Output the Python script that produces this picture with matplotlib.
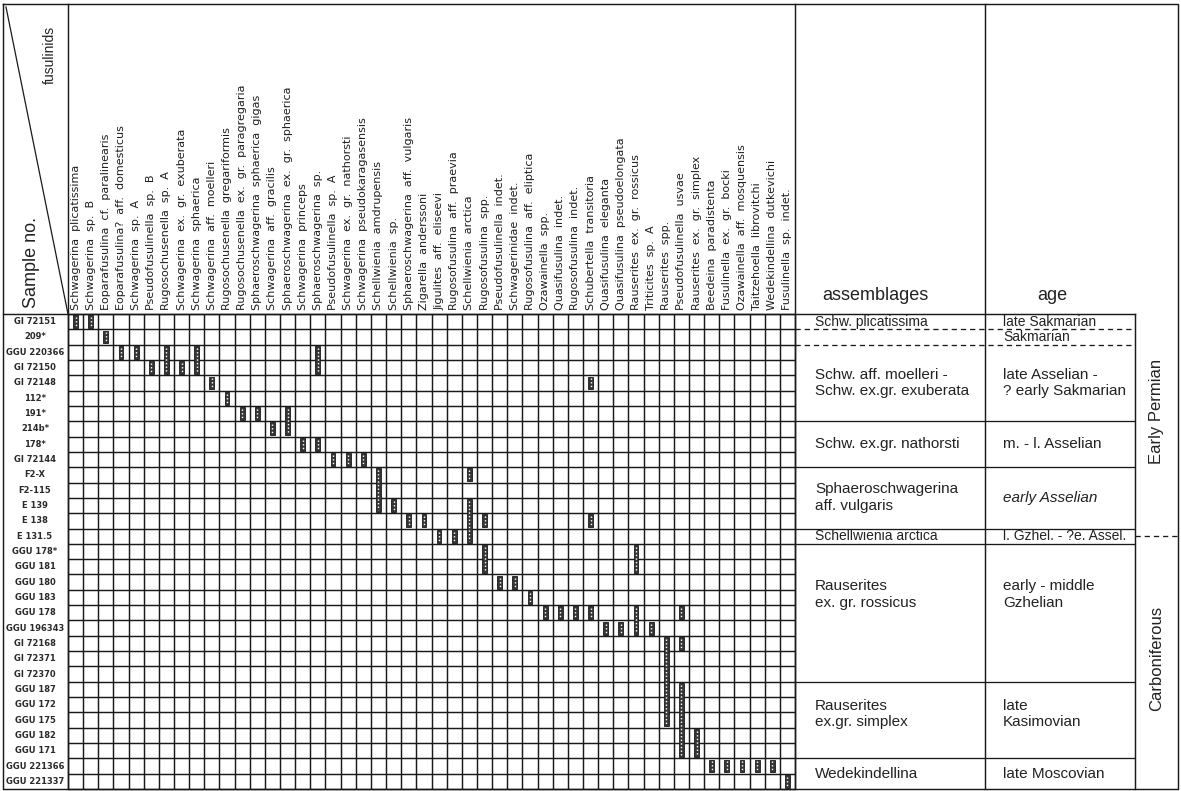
import matplotlib
matplotlib.use("Agg")
import matplotlib.pyplot as plt
import matplotlib.patches as mpatches
import numpy as np

# --- data -----------------------------------------------------------------
SPECIES = [
    "Schwagerina  plicatissima",
    "Schwagerina  sp.  B",
    "Eoparafusulina  cf.  paralinearis",
    "Eoparafusulina?  aff.  domesticus",
    "Schwagerina  sp.  A",
    "Pseudofusulinella  sp.  B",
    "Rugosochusenella  sp.  A",
    "Schwagerina  ex.  gr.  exuberata",
    "Schwagerina  sphaerica",
    "Schwagerina  aff.  moelleri",
    "Rugosochusenella  gregariformis",
    "Rugosochusenella  ex.  gr.  paragregaria",
    "Sphaeroschwagerina  sphaerica  gigas",
    "Schwagerina  aff.  gracilis",
    "Sphaeroschwagerina  ex.  gr.  sphaerica",
    "Schwagerina  princeps",
    "Sphaeroschwagerina  sp.",
    "Pseudofusulinella  sp.  A",
    "Schwagerina  ex.  gr.  nathorsti",
    "Schwagerina  pseudokaragasensis",
    "Schellwienia  amdrupensis",
    "Schellwienia  sp.",
    "Sphaeroschwagerina  aff.  vulgaris",
    "Zigarella  anderssoni",
    "Jigulites  aff.  eliseevi",
    "Rugosofusulina  aff.  praevia",
    "Schellwienia  arctica",
    "Rugosofusulina  spp.",
    "Pseudofusulinella  indet.",
    "Schwagerinidae  indet.",
    "Rugosofusulina  aff.  eliptica",
    "Ozawainella  spp.",
    "Quasifusulina  indet.",
    "Rugosofusulina  indet.",
    "Schubertella  transitoria",
    "Quasifusulina  eleganta",
    "Quasifusulina  pseudoelongata",
    "Rauserites  ex.  gr.  rossicus",
    "Triticites  sp.  A",
    "Rauserites  spp.",
    "Pseudofusulinella  usvae",
    "Rauserites  ex.  gr.  simplex",
    "Beedeina  paradistenta",
    "Fusulinella  ex.  gr.  bocki",
    "Ozawainella  aff.  mosquensis",
    "Taitzehoella  librovitchi",
    "Wedekindellina  dutkevichi",
    "Fusulinella  sp.  indet.",
]

SAMPLES = [
    "GI 72151", "209*", "GGU 220366", "GI 72150", "GI 72148", "112*", "191*",
    "214b*", "178*", "GI 72144", "F2-X", "F2-115", "E 139", "E 138", "E 131.5",
    "GGU 178*", "GGU 181", "GGU 180", "GGU 183", "GGU 178", "GGU 196343",
    "GI 72168", "GI 72371", "GI 72370", "GGU 187", "GGU 172", "GGU 175",
    "GGU 182", "GGU 171", "GGU 221366", "GGU 221337",
]

# species numbers (1-based) found in each sample, same order as SAMPLES
OCCURRENCES = [
    [1, 2],
    [3],
    [4, 5, 7, 9, 17],
    [6, 7, 8, 9, 17],
    [10, 35],
    [11],
    [12, 13, 15],
    [14, 15],
    [16, 17],
    [18, 19, 20],
    [21, 27],
    [21],
    [21, 22, 27],
    [23, 24, 27, 28, 35],
    [25, 26, 27],
    [28, 38],
    [28, 38],
    [29, 30],
    [31],
    [32, 33, 34, 35, 38, 41],
    [36, 37, 38, 39],
    [40, 41],
    [40],
    [40],
    [40, 41],
    [40, 41],
    [40, 41],
    [41, 42],
    [41, 42],
    [43, 44, 45, 46, 47],
    [48],
]

ASSEMBLAGES = [
    "Schw. plicatissima",
    "",
    "Schw. aff. moelleri -\nSchw. ex.gr. exuberata",
    "Schw. ex.gr. nathorsti",
    "Sphaeroschwagerina\naff. vulgaris",
    "Schellwienia arctica",
    "Rauserites\nex. gr. rossicus",
    "Rauserites\nex.gr. simplex",
    "Wedekindellina",
]
AGES = [
    "late Sakmarian",
    "Sakmarian",
    "late Asselian -\n? early Sakmarian",
    "m. - l. Asselian",
    "early Asselian",
    "l. Gzhel. - ?e. Assel.",
    "early - middle\nGzhelian",
    "late\nKasimovian",
    "late Moscovian",
]
ZONE_BOUNDS = [0, 1, 2, 7, 10, 14, 15, 24, 29, 31]
DASHED_BOUNDS = [1, 2]

PERIODS = ["Early Permian", "Carboniferous"]
PERIOD_BOUNDS = [0, 14.5, 31]

# --- layout (pixels of the 1181 x 791 picture) ------------------------------
W, H = 1181, 791
LEFT, GRID_L, GRID_R, ASM_R, AGE_R, RIGHT = 3, 68, 795, 985, 1135, 1178
TOP, GRID_T, BOTTOM = 4, 314, 789
INK = "#1a1a1a"
LW = 1.05
LABEL_SHIFT = {6: -1.2, 7: -0.4}
PERIOD_SHIFT = {0: -0.9, 1: -0.3}
SANS = "Liberation Sans"


def fig_box(x0, y0, x1, y1):
    return [x0 / W, 1 - y1 / H, (x1 - x0) / W, (y1 - y0) / H]


fig = plt.figure(figsize=(W / 100, H / 100), dpi=100)
fig.patch.set_facecolor("white")

frame = fig.add_axes([0, 0, 1, 1])
frame.set_xlim(0, W)
frame.set_ylim(H, 0)
frame.axis("off")

n_sp, n_rows = len(SPECIES), len(SAMPLES)
ax = fig.add_axes(fig_box(GRID_L, GRID_T, GRID_R, BOTTOM))
ax.set_xlim(0, n_sp)
ax.set_ylim(n_rows, 0)
ax.axis("off")

rx = fig.add_axes(fig_box(GRID_R, GRID_T, RIGHT, BOTTOM))
rx.set_xlim(GRID_R, RIGHT)
rx.set_ylim(n_rows, 0)
rx.axis("off")

# outer frame and header dividers
frame.plot([LEFT, RIGHT, RIGHT, LEFT, LEFT], [TOP, TOP, BOTTOM, BOTTOM, TOP],
           color=INK, lw=LW)
for x in (GRID_L, GRID_R, ASM_R):
    frame.plot([x, x], [TOP, BOTTOM], color=INK, lw=LW)
frame.plot([AGE_R, AGE_R], [GRID_T, BOTTOM], color=INK, lw=LW)
frame.plot([LEFT, AGE_R], [GRID_T, GRID_T], color=INK, lw=LW)
frame.plot([LEFT + 3, GRID_L], [TOP + 3, GRID_T], color=INK, lw=0.9)
frame.text(31, GRID_T - 6, "Sample no.", rotation=90, ha="center", va="bottom",
           fontsize=13, family=SANS, color="#222")
frame.text(50, 26, "fusulinids", rotation=90, ha="center", va="top",
           fontsize=10, family=SANS, color="#222")
frame.text(822, 296, "assemblages", ha="left", va="center",
           fontsize=13, family=SANS, color="#222")
frame.text(1052, 296, "age", ha="center", va="center",
           fontsize=13, family=SANS, color="#222")

# occurrence grid
ax.vlines(np.arange(n_sp + 1), 0, n_rows, color=INK, lw=LW, clip_on=False)
ax.hlines(np.arange(n_rows + 1), 0, n_sp, color=INK, lw=LW, clip_on=False)

for i, name in enumerate(SPECIES):
    ax.text(i + 0.5, -0.25, name, rotation=90, ha="center", va="bottom",
            fontsize=8, color="#1e1e1e")

lab_x = (35 - GRID_L) / ((GRID_R - GRID_L) / n_sp)
for r, name in enumerate(SAMPLES):
    ax.text(lab_x, r + 0.5, name, ha="center", va="center", fontsize=6,
            fontweight="bold", color="#2a2a2a")

# occurrence bars, joined over consecutive samples
bar_w, pad = 0.32, 0.08
for sp in range(1, n_sp + 1):
    rows = [r for r, occ in enumerate(OCCURRENCES) if sp in occ]
    runs = []
    for r in rows:
        if runs and runs[-1][1] == r:
            runs[-1][1] = r + 1
        else:
            runs.append([r, r + 1])
    for r0, r1 in runs:
        xc = sp - 0.5
        ax.add_patch(mpatches.Rectangle((xc - bar_w / 2, r0 + pad), bar_w,
                                        r1 - r0 - 2 * pad, facecolor="#353535",
                                        edgecolor="#1a1a1a", lw=0.6, zorder=3))
        ax.plot([xc, xc], [r0 + pad + 0.12, r1 - pad - 0.1], color="white",
                lw=1.0, linestyle=(0, (1.0, 1.6)), zorder=4)

# assemblage / age columns
for b in ZONE_BOUNDS[1:-1]:
    ls = (0, (4, 3)) if b in DASHED_BOUNDS else "-"
    rx.hlines(b, GRID_R, AGE_R, color=INK, lw=LW * 0.9, linestyle=ls)

for i, (asm, age) in enumerate(zip(ASSEMBLAGES, AGES)):
    y = (ZONE_BOUNDS[i] + ZONE_BOUNDS[i + 1]) / 2 + LABEL_SHIFT.get(i, 0)
    size = 10 if ZONE_BOUNDS[i + 1] - ZONE_BOUNDS[i] == 1 else 11
    rx.text(815, y, asm, ha="left", va="center", fontsize=size, family=SANS,
            color="#222", linespacing=1.25)
    rx.text(1003, y, age, ha="left", va="center", fontsize=size, family=SANS,
            color="#222", linespacing=1.25,
            style="italic" if age == "early Asselian" else "normal")

rx.hlines(PERIOD_BOUNDS[1], AGE_R, RIGHT + 3, color=INK, lw=LW * 0.9,
          linestyle=(0, (4, 3)), clip_on=False)
for i, period in enumerate(PERIODS):
    y = (PERIOD_BOUNDS[i] + PERIOD_BOUNDS[i + 1]) / 2 + PERIOD_SHIFT.get(i, 0)
    rx.text(1157, y, period, rotation=90, ha="center", va="center",
            fontsize=12, family=SANS, color="#222")

fig.savefig("out.png", dpi=100, facecolor="white")
